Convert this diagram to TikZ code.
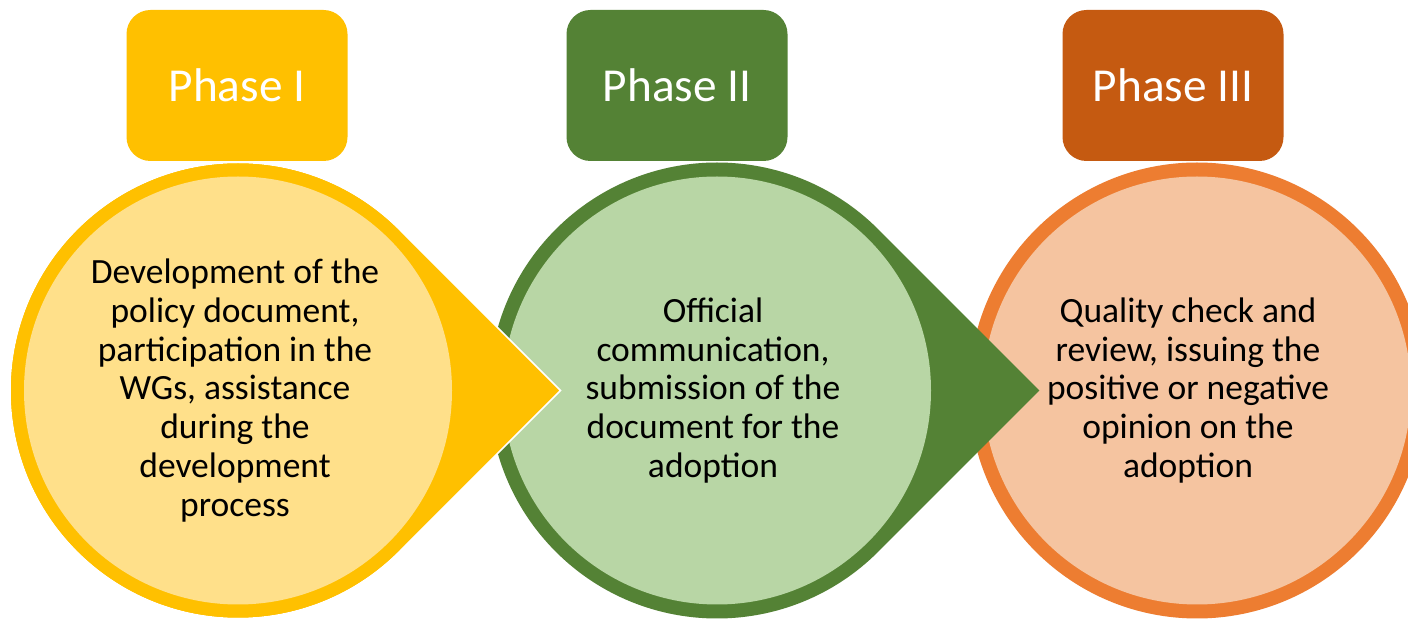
\documentclass[tikz,border=0pt]{standalone}
\usepackage{fontspec}
\setmainfont{Carlito}
\definecolor{yellowdark}{HTML}{FFC000}
\definecolor{yellowlight}{HTML}{FFE08A}
\definecolor{greendark}{HTML}{548235}
\definecolor{greenlight}{HTML}{B8D6A5}
\definecolor{orangedark}{HTML}{ED7D31}
\definecolor{orangelight}{HTML}{F5C4A0}
\definecolor{rustbox}{HTML}{C55A11}
\begin{document}
\begin{tikzpicture}[x=1pt,y=1pt,
  phasebox/.style={rounded corners=24pt,minimum width=221pt,minimum height=151pt,inner sep=0pt,text=white,font=\fontsize{47.3}{55}\selectfont},
  stagetext/.style={align=center,inner sep=0pt,font=\fontsize{35.5}{38.7}\selectfont}]
\useasboundingbox(0,0)rectangle(1408,621);
\fill[white](0,0)rectangle(1408,621);
\coordinate(c1)at(238,230.5);
\coordinate(c2)at(717,230.5);
\coordinate(c3)at(1197,230.5);
%phase III
\fill[orangedark](c3)circle[radius=228];
\fill[orangelight](c3)circle[radius=214];
%phase II
\fill[greendark](c2)++(45:228)--++(-45:228)--++(-135:228)arc[start angle=-45,end angle=-315,radius=228]--cycle;
\fill[greenlight](c2)circle[radius=214];
%phase I
\filldraw[fill=yellowdark,draw=white,line width=1.5pt](c1)++(45:228)--++(-45:228)--++(-135:228)arc[start angle=-45,end angle=-315,radius=228]--cycle;
\fill[yellowdark](c1)circle[radius=227];
\fill[yellowlight](c1)circle[radius=214];
%boxes
\node[phasebox,fill=yellowdark](p1)at(237,535.5){Phase I};
\node[phasebox,fill=greendark](p2)at(677,535.5){Phase II};
\node[phasebox,fill=rustbox](p3)at(1173,535.5){Phase III};
%texts
\node[stagetext](t1)at(235,230.5){Development of the\\policy document,\\participation in the\\WGs, assistance\\during the\\development\\process};
\node[stagetext](t2)at(713,230.5){Official\\communication,\\submission of the\\document for the\\adoption};
\node[stagetext](t3)at(1188,230.5){Quality check and\\review, issuing the\\positive or negative\\opinion on the\\adoption};
\end{tikzpicture}
\end{document}
